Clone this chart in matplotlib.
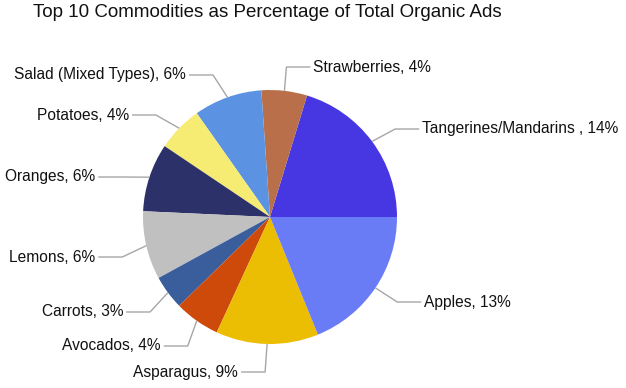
import numpy as np
import matplotlib.pyplot as plt

# Data (percent of total organic ads), counter-clockwise from 3 o'clock
commodities = ["Tangerines/Mandarins ", "Strawberries", "Salad (Mixed Types)", "Potatoes",
               "Oranges", "Lemons", "Carrots", "Avocados", "Asparagus", "Apples"]
shares = [14, 4, 6, 4, 6, 6, 3, 4, 9, 13]
colors = ["#4637e3", "#b9704a", "#5b93e2", "#f6eb73", "#2c3169",
          "#c0c0c0", "#3a5e9b", "#cd4a0b", "#ebbd03", "#6a7bf6"]

# layout: label centre heights in pixels (from bottom of figure)
label_y = [259, 321, 313, 273, 211, 131, 76, 42, 16, 86]

W, H = 626, 388
cx, cy, r = 270, 171, 127
elbow_r = 153
seg = 24

fig = plt.figure(figsize=(W / 100, H / 100), dpi=100)
ax = fig.add_axes([0, 0, 1, 1])

wedges, _ = ax.pie(shares, colors=colors, startangle=0, counterclock=True,
                   center=(cx, cy), radius=r, wedgeprops=dict(linewidth=0),
                   frame=True)
ax.set_xlim(0, W)
ax.set_ylim(0, H)
ax.set_aspect("equal")
ax.axis("off")

for w, name, val, ly in zip(wedges, commodities, shares, label_y):
    mid = np.deg2rad((w.theta1 + w.theta2) / 2)
    ex, ey = cx + r * np.cos(mid), cy + r * np.sin(mid)
    side = 1 if np.cos(mid) >= 0 else -1
    dy = ly - cy
    bx = cx + side * np.sqrt(max(elbow_r ** 2 - dy ** 2, 0))
    if abs(np.cos(mid)) < 0.15:
        # nearly vertical leader
        bx = ex + side * 2
    tx = bx + side * seg
    ax.plot([ex, bx, tx], [ey, ly, ly], color="#a6a6a6", lw=1, solid_capstyle="butt")
    ax.text(tx + side * 3, ly, f"{name}, {val}%", ha="left" if side > 0 else "right",
            va="center", fontsize=11.2, family="Liberation Sans", color="#111111")

fig.text(33 / W, 1 - 17 / H, "Top 10 Commodities as Percentage of Total Organic Ads",
         ha="left", va="baseline", fontsize=13.5, family="Liberation Sans", color="#111111")

fig.savefig("out.png", dpi=100)
